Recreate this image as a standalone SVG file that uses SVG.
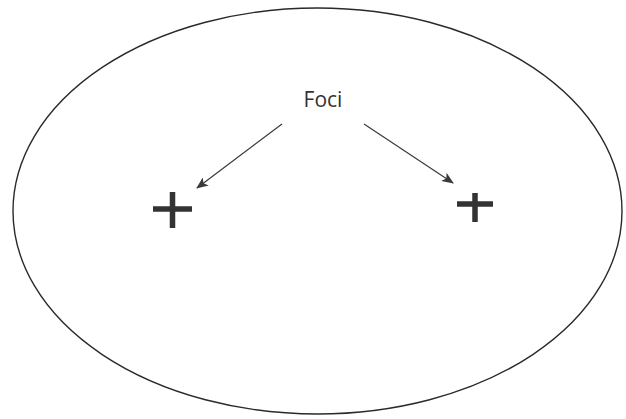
<svg xmlns="http://www.w3.org/2000/svg" width="626" height="419" viewBox="0 0 626 419">
<style>
.conn{stroke:#3a3a3a;stroke-width:1.2;fill:none}
.plus{stroke:#333;stroke-width:5.5;fill:none}
.lbl{font-family:"Open Sans","Liberation Sans",sans-serif;font-size:21px;fill:#333}
</style>
<defs>
<marker id="ah" viewBox="0 0 12 10" refX="11" refY="5" markerWidth="12" markerHeight="10" markerUnits="userSpaceOnUse" orient="auto">
<path d="M0,0 L12,5 L0,10 L3,5 Z" fill="#3a3a3a"/>
</marker>
</defs>
<rect width="626" height="419" fill="#fff"/>
<g id="ellipse"><ellipse cx="317.5" cy="211" rx="304.5" ry="203" fill="none" stroke="#2a2a2a" stroke-width="1.4"/></g>
<g id="label"><text class="lbl" x="323" y="107" text-anchor="middle">Foci</text></g>
<g id="focus1"><path class="plus" d="M153,209 H192 M172.5,192 V228"/></g>
<g id="focus2"><path class="plus" d="M457,204 H493 M475,193 V222"/></g>
<g id="connectors">
<line class="conn" x1="282" y1="124" x2="197" y2="188" marker-end="url(#ah)"/>
<line class="conn" x1="364" y1="124" x2="453" y2="183" marker-end="url(#ah)"/>
</g>
</svg>
